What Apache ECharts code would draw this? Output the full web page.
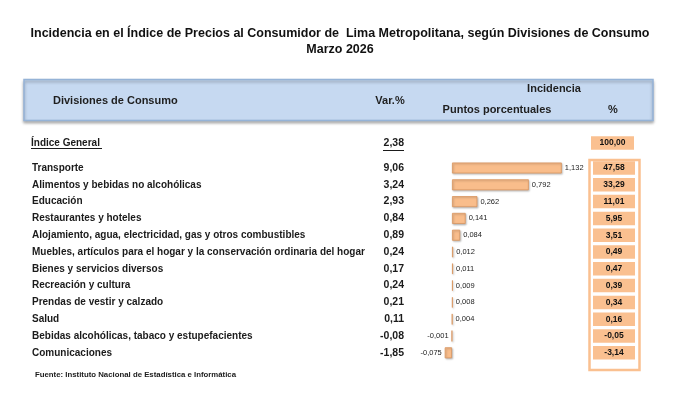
<!DOCTYPE html>
<html>
<head>
<meta charset="utf-8">
<script src="https://cdn.jsdelivr.net/npm/echarts@6/dist/echarts.min.js"></script>
<style>
  html, body { margin: 0; padding: 0; background: #fff; }
  #chart { width: 680px; height: 407px; }
</style>
</head>
<body>
<div id="chart"></div>
<script>
// data
const totalNombre = ["Índice General"];
const totalVariacion = [2.38];
const totalPorcentaje = [100.0];

const divisiones = [
  "Transporte",
  "Alimentos y bebidas no alcohólicas",
  "Educación",
  "Restaurantes y hoteles",
  "Alojamiento, agua, electricidad, gas y otros combustibles",
  "Muebles, artículos para el hogar y la conservación ordinaria del hogar",
  "Bienes y servicios diversos",
  "Recreación y cultura",
  "Prendas de vestir y calzado",
  "Salud",
  "Bebidas alcohólicas, tabaco y estupefacientes",
  "Comunicaciones"
];
const variacion = [9.06, 3.24, 2.93, 0.84, 0.89, 0.24, 0.17, 0.24, 0.21, 0.11, -0.08, -1.85];
const puntos = [1.132, 0.792, 0.262, 0.141, 0.084, 0.012, 0.011, 0.009, 0.008, 0.004, -0.001, -0.075];
const porcentaje = [47.58, 33.29, 11.01, 5.95, 3.51, 0.49, 0.47, 0.39, 0.34, 0.16, -0.05, -3.14];

const sans = "'Liberation Sans', Arial, sans-serif";
const orange = "#fac090";

const coma = (v, d) => v.toFixed(d).replace(".", ",");

// layout
const xMin = -0.2, xMax = 1.4;
const gridLeft = 432.6, gridWidth = 155.2;
const rowH = 16.8;
const cellX = 614;

const chart = echarts.init(document.getElementById("chart"));

const hidden = { show: false };
function catAxis(gridIndex, data, position, label) {
  return {
    type: "category", gridIndex, data, inverse: true, position,
    axisLine: hidden, axisTick: hidden, splitLine: hidden,
    axisLabel: Object.assign({ fontFamily: sans, fontWeight: "bold", fontSize: 10, color: "#1b1b1b" }, label)
  };
}
function cell(w, h) {
  return {
    align: "center", backgroundColor: orange, width: w, height: h, lineHeight: h,
    fontSize: 8.5, color: "#111"
  };
}
function titleLine(text, top) {
  return {
    text, left: "center", top,
    textStyle: { fontFamily: sans, fontWeight: "bold", fontSize: 12.5, color: "#111" }
  };
}
function headText(text, x, y, align) {
  return {
    type: "text", x, y,
    style: { text, font: "bold 11px " + sans, fill: "#1f1f1f", align: align || "center", verticalAlign: "middle" }
  };
}

chart.setOption({
  animation: false,
  title: [
    titleLine("Incidencia en el Índice de Precios al Consumidor de  Lima Metropolitana, según Divisiones de Consumo", 22),
    titleLine("Marzo 2026", 38)
  ],
  grid: [
    { left: gridLeft, width: gridWidth, top: 143 - rowH / 2, height: rowH },
    { left: gridLeft, width: gridWidth, top: 168 - rowH / 2, height: rowH * 12 }
  ],
  xAxis: [
    { type: "value", gridIndex: 0, min: xMin, max: xMax, show: false },
    { type: "value", gridIndex: 1, min: xMin, max: xMax, show: false }
  ],
  yAxis: [
    catAxis(1, divisiones, "left", { align: "left", margin: gridLeft - 32 }),
    catAxis(1, divisiones, "left", {
      align: "right", margin: gridLeft - 404, fontSize: 10.5,
      formatter: (v, i) => coma(variacion[i], 2)
    }),
    catAxis(1, divisiones, "right", Object.assign(cell(42, 13.5), {
      margin: cellX - (gridLeft + gridWidth),
      formatter: (v, i) => coma(porcentaje[i], 2)
    })),
    catAxis(0, totalNombre, "left", { align: "left", margin: gridLeft - 31 }),
    catAxis(0, totalNombre, "left", {
      align: "right", margin: gridLeft - 404, fontSize: 10.5,
      formatter: (v, i) => coma(totalVariacion[i], 2)
    }),
    catAxis(0, totalNombre, "right", Object.assign(cell(43, 13.5), {
      margin: cellX - 1.5 - (gridLeft + gridWidth),
      formatter: (v, i) => coma(totalPorcentaje[i], 2)
    }))
  ],
  series: [{
    type: "bar",
    xAxisIndex: 1, yAxisIndex: 0,
    barWidth: 11,
    data: puntos.map(v => ({ value: v, label: { position: v < 0 ? "left" : "right" } })),
    itemStyle: {
      color: "#f9bd8b", borderColor: "#d9965f", borderWidth: 0.8,
      shadowColor: "rgba(0,0,0,0.25)", shadowBlur: 2, shadowOffsetX: 1, shadowOffsetY: 1
    },
    label: {
      show: true, distance: 3, fontFamily: sans, fontSize: 7.5, color: "#222",
      formatter: p => coma(p.value, 3)
    }
  }],
  graphic: [
    {
      type: "rect", z: -1,
      shape: { x: 24, y: 79.5, width: 629, height: 41 },
      style: { fill: "#c6d9f1", stroke: "#95b3d7", lineWidth: 1.5, shadowBlur: 3, shadowOffsetY: 2, shadowColor: "rgba(0,0,0,0.3)" }
    },
    headText("Divisiones de Consumo", 53, 101, "left"),
    headText("Var.%", 390, 101),
    headText("Incidencia", 554, 89),
    headText("Puntos porcentuales", 497, 110),
    headText("%", 613, 110),
    { type: "line", shape: { x1: 31, y1: 148.5, x2: 102, y2: 148.5 }, style: { stroke: "#1b1b1b", lineWidth: 1 } },
    { type: "line", shape: { x1: 383, y1: 150.5, x2: 404, y2: 150.5 }, style: { stroke: "#1b1b1b", lineWidth: 1 } },
    {
      type: "rect",
      shape: { x: 589.5, y: 160, width: 50, height: 210 },
      style: { fill: "none", stroke: orange, lineWidth: 2.5 }
    },
    {
      type: "text", x: 35, y: 375,
      style: { text: "Fuente: Instituto Nacional de Estadística e Informática", font: "bold 7.8px " + sans, fill: "#1b1b1b", verticalAlign: "middle" }
    }
  ]
});
</script>
</body>
</html>
